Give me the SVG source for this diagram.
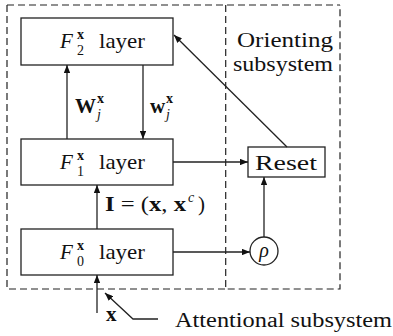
<svg xmlns="http://www.w3.org/2000/svg" width="393" height="336" viewBox="0 0 393 336">
<defs>
<marker id="ah" viewBox="0 0 10 8" refX="10" refY="4" markerWidth="8" markerHeight="6.4" markerUnits="userSpaceOnUse" orient="auto">
<path d="M0,0 L10,4 L0,8 Z" fill="#111"/>
</marker>
<style>
.box{fill:#fff;stroke:#222;stroke-width:1.3}
.dash{fill:none;stroke:#222;stroke-width:1.2;stroke-dasharray:7 4}
.ln{fill:none;stroke:#222;stroke-width:1.3;marker-end:url(#ah)}
.t{font-family:"Liberation Serif","DejaVu Serif",serif;fill:#111}
.it{font-style:italic}
.b{font-weight:bold}
</style>
</defs>
<g id="attentional-subsystem">
<path class="dash" d="M7,5 H340 M7,5 V289 H225.7"/>
</g>
<g id="orienting-subsystem">
<path class="dash" d="M225.7,5 V289 H340 V5"/>
<text class="t" x="237" y="47" font-size="20" textLength="96" lengthAdjust="spacingAndGlyphs">Orienting</text>
<text class="t" x="233" y="71" font-size="20" textLength="100" lengthAdjust="spacingAndGlyphs">subsystem</text>
</g>
<g id="f2">
<rect class="box" x="21" y="18" width="152" height="47"/>
<text class="t it" x="60" y="48" font-size="21">F</text>
<text class="t b" x="77" y="39" font-size="14">x</text>
<text class="t" x="77" y="55" font-size="14">2</text>
<text class="t" x="99" y="48" font-size="21" textLength="46" lengthAdjust="spacingAndGlyphs">layer</text>
</g>
<g id="f1">
<rect class="box" x="21" y="139" width="152" height="46"/>
<text class="t it" x="60" y="169" font-size="21">F</text>
<text class="t b" x="77" y="160" font-size="14">x</text>
<text class="t" x="77" y="176" font-size="14">1</text>
<text class="t" x="99" y="169" font-size="21" textLength="46" lengthAdjust="spacingAndGlyphs">layer</text>
</g>
<g id="f0">
<rect class="box" x="21" y="229" width="152" height="46"/>
<text class="t it" x="60" y="259" font-size="21">F</text>
<text class="t b" x="77" y="250" font-size="14">x</text>
<text class="t" x="77" y="266" font-size="14">0</text>
<text class="t" x="99" y="259" font-size="21" textLength="46" lengthAdjust="spacingAndGlyphs">layer</text>
</g>
<g id="reset">
<rect class="box" x="248" y="147" width="77" height="30"/>
<text class="t" x="255" y="170" font-size="22" textLength="62" lengthAdjust="spacingAndGlyphs">Reset</text>
</g>
<g id="rho">
<circle cx="264" cy="251" r="14" fill="#fff" stroke="#222" stroke-width="1.3"/>
<text class="t it" x="264" y="257" font-size="20" text-anchor="middle">ρ</text>
</g>
<g id="connectors">
<line class="ln" x1="67" y1="139" x2="67" y2="65"/>
<line class="ln" x1="143" y1="65" x2="143" y2="139"/>
<line class="ln" x1="97" y1="229" x2="97" y2="185"/>
<line class="ln" x1="97" y1="313" x2="97" y2="275"/>
<line class="ln" x1="173" y1="162" x2="248" y2="162"/>
<line class="ln" x1="173" y1="252" x2="250" y2="252"/>
<line class="ln" x1="264" y1="237" x2="264" y2="177"/>
<line class="ln" x1="287" y1="147" x2="174" y2="35"/>
<path class="ln" d="M158,319 H133 L105,293"/>
</g>
<g id="labels">
<text class="t b" x="75" y="113" font-size="21">W</text>
<text class="t b" x="97" y="103" font-size="14">x</text>
<text class="t it" x="97" y="119" font-size="14">j</text>
<text class="t b" x="150" y="113" font-size="21">w</text>
<text class="t b" x="166" y="103" font-size="14">x</text>
<text class="t it" x="166" y="119" font-size="14">j</text>
<text class="t" x="105" y="211" font-size="21" textLength="81" lengthAdjust="spacingAndGlyphs"><tspan class="b">I</tspan> = (<tspan class="b">x</tspan>, <tspan class="b">x</tspan></text>
<text class="t it" x="188" y="202" font-size="14">c</text>
<text class="t" x="198" y="211" font-size="21">)</text>
<text class="t b" x="106" y="321" font-size="21">x</text>
<text class="t" x="175" y="327" font-size="20" textLength="217" lengthAdjust="spacingAndGlyphs">Attentional subsystem</text>
</g>
</svg>
